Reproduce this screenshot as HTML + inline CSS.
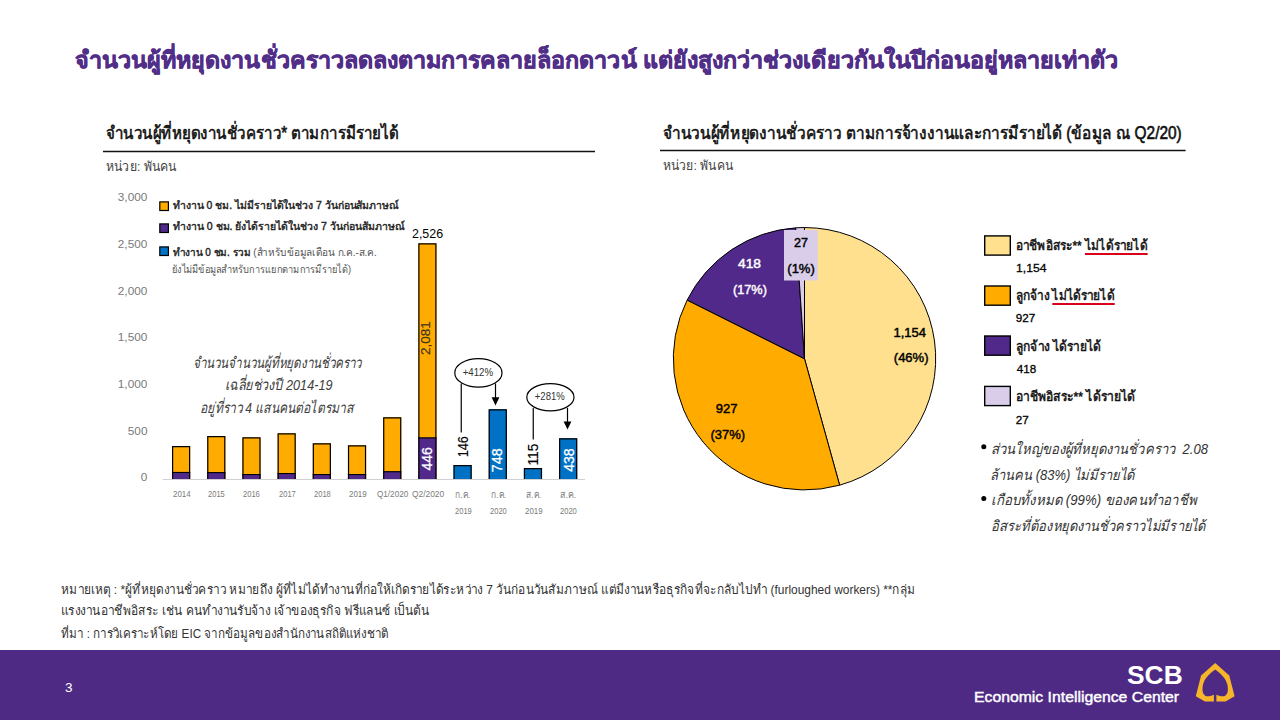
<!DOCTYPE html>
<html><head><meta charset="utf-8"><style>
html,body{margin:0;padding:0;}
body{width:1280px;height:720px;overflow:hidden;background:#fff;position:relative;font-family:"Liberation Sans",sans-serif;}
svg{position:absolute;left:0;top:0;}
.t{position:absolute;white-space:nowrap;line-height:1;transform-origin:0 0;}
.ul{text-decoration:underline;text-decoration-color:#d9001b;text-decoration-thickness:1.5px;text-underline-offset:3px;}
</style></head>
<body>
<svg width="1280" height="720" viewBox="0 0 1280 720"><rect x="0" y="650" width="1280" height="70" fill="#4e2a84"/>
<rect x="103" y="150.75" width="492" height="1.5" fill="#111"/>
<rect x="660" y="149.75" width="525.6" height="1.5" fill="#111"/>
<rect x="162.6" y="479" width="422.4" height="1" fill="#d0d0d0"/>
<rect x="172.00" y="446.00" width="18.20" height="33.00" fill="#ffab00"/><rect x="172.00" y="472.00" width="18.20" height="7.00" fill="#51298a"/><rect x="172.00" y="471.90" width="18.20" height="1.1" fill="#000"/><path d="M172.60 479.0 V446.60 H189.60 V479.0" fill="none" stroke="#000" stroke-width="1.2"/>
<rect x="207.19" y="436.00" width="18.20" height="43.00" fill="#ffab00"/><rect x="207.19" y="472.20" width="18.20" height="6.80" fill="#51298a"/><rect x="207.19" y="472.10" width="18.20" height="1.1" fill="#000"/><path d="M207.79 479.0 V436.60 H224.79 V479.0" fill="none" stroke="#000" stroke-width="1.2"/>
<rect x="242.37" y="437.30" width="18.20" height="41.70" fill="#ffab00"/><rect x="242.37" y="474.10" width="18.20" height="4.90" fill="#51298a"/><rect x="242.37" y="474.00" width="18.20" height="1.1" fill="#000"/><path d="M242.97 479.0 V437.90 H259.97 V479.0" fill="none" stroke="#000" stroke-width="1.2"/>
<rect x="277.56" y="433.30" width="18.20" height="45.70" fill="#ffab00"/><rect x="277.56" y="473.10" width="18.20" height="5.90" fill="#51298a"/><rect x="277.56" y="473.00" width="18.20" height="1.1" fill="#000"/><path d="M278.16 479.0 V433.90 H295.16 V479.0" fill="none" stroke="#000" stroke-width="1.2"/>
<rect x="312.74" y="443.20" width="18.20" height="35.80" fill="#ffab00"/><rect x="312.74" y="474.10" width="18.20" height="4.90" fill="#51298a"/><rect x="312.74" y="474.00" width="18.20" height="1.1" fill="#000"/><path d="M313.34 479.0 V443.80 H330.34 V479.0" fill="none" stroke="#000" stroke-width="1.2"/>
<rect x="347.93" y="445.30" width="18.20" height="33.70" fill="#ffab00"/><rect x="347.93" y="474.10" width="18.20" height="4.90" fill="#51298a"/><rect x="347.93" y="474.00" width="18.20" height="1.1" fill="#000"/><path d="M348.53 479.0 V445.90 H365.53 V479.0" fill="none" stroke="#000" stroke-width="1.2"/>
<rect x="383.12" y="417.20" width="18.20" height="61.80" fill="#ffab00"/><rect x="383.12" y="471.30" width="18.20" height="7.70" fill="#51298a"/><rect x="383.12" y="471.20" width="18.20" height="1.1" fill="#000"/><path d="M383.72 479.0 V417.80 H400.72 V479.0" fill="none" stroke="#000" stroke-width="1.2"/>
<rect x="418.30" y="243.30" width="18.20" height="235.70" fill="#ffab00"/><rect x="418.30" y="437.50" width="18.20" height="41.50" fill="#51298a"/><rect x="418.30" y="437.40" width="18.20" height="1.1" fill="#000"/><path d="M418.90 479.0 V243.90 H435.90 V479.0" fill="none" stroke="#000" stroke-width="1.2"/>
<rect x="453.49" y="465.00" width="18.20" height="14.00" fill="#0072c6"/><path d="M454.09 479.0 V465.60 H471.09 V479.0" fill="none" stroke="#000" stroke-width="1.2"/>
<rect x="488.67" y="409.25" width="18.20" height="69.75" fill="#0072c6"/><path d="M489.27 479.0 V409.85 H506.27 V479.0" fill="none" stroke="#000" stroke-width="1.2"/>
<rect x="523.86" y="468.00" width="18.20" height="11.00" fill="#0072c6"/><path d="M524.46 479.0 V468.60 H541.46 V479.0" fill="none" stroke="#000" stroke-width="1.2"/>
<rect x="559.05" y="438.25" width="18.20" height="40.75" fill="#0072c6"/><path d="M559.65 479.0 V438.85 H576.65 V479.0" fill="none" stroke="#000" stroke-width="1.2"/>
<rect x="159.8" y="201.9" width="8.6" height="8.6" fill="#ffab00" stroke="#000" stroke-width="1.2"/>
<rect x="159.8" y="223.9" width="8.6" height="8.6" fill="#51298a" stroke="#000" stroke-width="1.2"/>
<rect x="159.8" y="246.9" width="8.6" height="8.6" fill="#0072c6" stroke="#000" stroke-width="1.2"/>
<ellipse cx="478.4" cy="372.9" rx="23.6" ry="14.2" fill="#fff" stroke="#000" stroke-width="1.2"/>
<ellipse cx="550.4" cy="397.25" rx="23.6" ry="13.6" fill="#fff" stroke="#000" stroke-width="1.2"/>
<line x1="461.25" y1="383.5" x2="461.25" y2="432.5" stroke="#000" stroke-width="1.2"/>
<line x1="495.5" y1="383.5" x2="495.5" y2="398" stroke="#000" stroke-width="1.2"/>
<path d="M491.6 397.3 L499.4 397.3 L495.5 405.5 Z" fill="#000"/>
<line x1="533.25" y1="408" x2="533.25" y2="439.5" stroke="#000" stroke-width="1.2"/>
<line x1="567.5" y1="408" x2="567.5" y2="422" stroke="#000" stroke-width="1.2"/>
<path d="M563.6 421.5 L571.4 421.5 L567.5 429.5 Z" fill="#000"/>
<text x="0" y="0" transform="translate(430.3,338.1) rotate(-90)" text-anchor="middle" textLength="33.8" lengthAdjust="spacingAndGlyphs" font-family="Liberation Sans, sans-serif" font-size="12.5" fill="#3d3320" stroke="#3d3320" stroke-width="0.15">2,081</text>
<text x="0" y="0" transform="translate(431.9,458.9) rotate(-90)" text-anchor="middle" textLength="23.4" lengthAdjust="spacingAndGlyphs" font-family="Liberation Sans, sans-serif" font-size="14.5" fill="#fff" stroke="#fff" stroke-width="0.3">446</text>
<text x="0" y="0" transform="translate(467.9,446.65) rotate(-90)" text-anchor="middle" textLength="21.1" lengthAdjust="spacingAndGlyphs" font-family="Liberation Sans, sans-serif" font-size="13.8" fill="#000" stroke="#000" stroke-width="0.15">146</text>
<text x="0" y="0" transform="translate(502.3,460.3) rotate(-90)" text-anchor="middle" textLength="23.8" lengthAdjust="spacingAndGlyphs" font-family="Liberation Sans, sans-serif" font-size="14.5" fill="#fff" stroke="#fff" stroke-width="0.3">748</text>
<text x="0" y="0" transform="translate(538.1,454.6) rotate(-90)" text-anchor="middle" textLength="21.8" lengthAdjust="spacingAndGlyphs" font-family="Liberation Sans, sans-serif" font-size="13.8" fill="#000" stroke="#000" stroke-width="0.15">115</text>
<text x="0" y="0" transform="translate(573.8,460.1) rotate(-90)" text-anchor="middle" textLength="23.4" lengthAdjust="spacingAndGlyphs" font-family="Liberation Sans, sans-serif" font-size="14.5" fill="#fff" stroke="#fff" stroke-width="0.3">438</text>
<text x="477.9" y="376.3" text-anchor="middle" textLength="30.4" lengthAdjust="spacingAndGlyphs" font-family="Liberation Sans, sans-serif" font-size="10.6" fill="#333">+412%</text>
<text x="549.75" y="399.7" text-anchor="middle" textLength="29.9" lengthAdjust="spacingAndGlyphs" font-family="Liberation Sans, sans-serif" font-size="10.6" fill="#333">+281%</text>
<path d="M804.5 358.75 L804.50 227.55 A131.2 131.2 0 0 1 839.64 485.16 Z" fill="#ffe08e" stroke="#000" stroke-width="1.0" stroke-linejoin="round"/>
<path d="M804.5 358.75 L839.64 485.16 A131.2 131.2 0 0 1 687.17 300.05 Z" fill="#ffab00" stroke="#000" stroke-width="1.0" stroke-linejoin="round"/>
<path d="M804.5 358.75 L687.17 300.05 A131.2 131.2 0 0 1 795.70 227.85 Z" fill="#51298a" stroke="#000" stroke-width="1.0" stroke-linejoin="round"/>
<path d="M804.5 358.75 L795.70 227.85 A131.2 131.2 0 0 1 804.50 227.55 Z" fill="#d9cdea" stroke="#000" stroke-width="1.0" stroke-linejoin="round"/>
<rect x="784" y="230" width="33.8" height="50.5" fill="#d9cdea"/>
<rect x="984.7" y="235.89999999999998" width="25.6" height="19.2" fill="#ffe08e" stroke="#000" stroke-width="1.4"/>
<rect x="984.7" y="286.0" width="25.6" height="19.2" fill="#ffab00" stroke="#000" stroke-width="1.4"/>
<rect x="984.7" y="336.0" width="25.6" height="19.2" fill="#51298a" stroke="#000" stroke-width="1.4"/>
<rect x="984.7" y="386.4" width="25.6" height="19.2" fill="#d9cdea" stroke="#000" stroke-width="1.4"/>
<circle cx="983.8" cy="446.8" r="2.5" fill="#000"/>
<circle cx="983.8" cy="498.4" r="2.5" fill="#000"/>
<path d="M1215.2 663.1 L1229.25 675.6 L1234.6 696.25 L1225.5 701.6 L1204.9 701.6 L1195.8 696.25 L1201.1 675.6 Z" fill="#f7b52a"/>
<path d="M1215.2 669.4 C1211 672.5 1204 678 1202.8 685.5 C1202.2 690 1202.3 694 1205.5 695.9 C1208.5 697 1212 695.5 1213.9 694.7 L1213.9 702 L1216.4 702 L1216.4 694.7 C1218.4 695.5 1222 697 1224.9 695.9 C1228.1 694 1228.2 690 1227.6 685.5 C1226.4 678 1219.4 672.5 1215.2 669.4 Z" fill="#4e2a84"/></svg>
<div class="t" id="title" style="left:75.20px;top:48.56px;font-size:23.2px;font-weight:bold;font-style:normal;color:#512e88;-webkit-text-stroke:0.6px #512e88;transform:scaleX(1.0028);">จำนวนผู้ที่หยุดงานชั่วคราวลดลงตามการคลายล็อกดาวน์ แต่ยังสูงกว่าช่วงเดียวกันในปีก่อนอยู่หลายเท่าตัว</div>
<div class="t" id="h1" style="left:106.47px;top:125.49px;font-size:17.5px;font-weight:normal;font-style:normal;color:#111;-webkit-text-stroke:0.6px #111;transform:scaleX(0.8628);">จำนวนผู้ที่หยุดงานชั่วคราว* ตามการมีรายได้</div>
<div class="t" id="u1" style="left:106.09px;top:159.77px;font-size:13.5px;font-weight:normal;font-style:normal;color:#444;transform:scaleX(0.9091);">หน่วย: พันคน</div>
<div class="t" id="h2" style="left:663.00px;top:125.19px;font-size:17.5px;font-weight:normal;font-style:normal;color:#111;-webkit-text-stroke:0.6px #111;transform:scaleX(0.8810);">จำนวนผู้ที่หยุดงานชั่วคราว ตามการจ้างงานและการมีรายได้ (ข้อมูล ณ Q2/20)</div>
<div class="t" id="u2" style="left:663.48px;top:158.57px;font-size:13.5px;font-weight:normal;font-style:normal;color:#444;transform:scaleX(0.9000);">หน่วย: พันคน</div>
<div class="t" id="y0" style="left:117.80px;top:191.71px;font-size:11.8px;font-weight:normal;font-style:normal;color:#7a7a7a;">3,000</div>
<div class="t" id="y1" style="left:117.80px;top:238.51px;font-size:11.8px;font-weight:normal;font-style:normal;color:#7a7a7a;">2,500</div>
<div class="t" id="y2" style="left:117.80px;top:285.51px;font-size:11.8px;font-weight:normal;font-style:normal;color:#7a7a7a;">2,000</div>
<div class="t" id="y3" style="left:117.80px;top:331.76px;font-size:11.8px;font-weight:normal;font-style:normal;color:#7a7a7a;">1,500</div>
<div class="t" id="y4" style="left:117.80px;top:379.01px;font-size:11.8px;font-weight:normal;font-style:normal;color:#7a7a7a;">1,000</div>
<div class="t" id="y5" style="left:127.80px;top:425.71px;font-size:11.8px;font-weight:normal;font-style:normal;color:#7a7a7a;">500</div>
<div class="t" id="y6" style="left:140.80px;top:471.51px;font-size:11.8px;font-weight:normal;font-style:normal;color:#7a7a7a;">0</div>
<div class="t" id="lg1" style="left:173.00px;top:200.36px;font-size:10.5px;font-weight:normal;font-style:normal;color:#222;-webkit-text-stroke:0.4px #222;transform:scaleX(0.9908);">ทำงาน 0 ชม. ไม่มีรายได้ในช่วง 7 วันก่อนสัมภาษณ์</div>
<div class="t" id="lg2" style="left:173.00px;top:221.36px;font-size:10.5px;font-weight:normal;font-style:normal;color:#222;-webkit-text-stroke:0.4px #222;transform:scaleX(0.9978);">ทำงาน 0 ชม. ยังได้รายได้ในช่วง 7 วันก่อนสัมภาษณ์</div>
<div class="t" id="lg3" style="left:173.02px;top:246.61px;font-size:10.5px;font-weight:normal;font-style:normal;color:#555;transform:scaleX(0.9519);"><span style="color:#222;-webkit-text-stroke:0.4px #222">ทำงาน 0 ชม. รวม</span> (สำหรับข้อมูลเดือน ก.ค.-ส.ค.</div>
<div class="t" id="lg4" style="left:172.18px;top:264.11px;font-size:10.5px;font-weight:normal;font-style:normal;color:#555;transform:scaleX(0.8800);">ยังไม่มีข้อมูลสำหรับการแยกตามการมีรายได้)</div>
<div class="t" id="a1" style="left:192.54px;top:355.30px;font-size:15px;font-weight:normal;font-style:italic;color:#404040;transform:scaleX(0.7850);">จำนวนจำนวนผู้ที่หยุดงานชั่วคราว</div>
<div class="t" id="a2" style="left:225.15px;top:376.55px;font-size:15px;font-weight:normal;font-style:italic;color:#404040;transform:scaleX(0.8452);">เฉลี่ยช่วงปี 2014-19</div>
<div class="t" id="a3" style="left:200.48px;top:400.30px;font-size:15px;font-weight:normal;font-style:italic;color:#404040;transform:scaleX(0.8069);">อยู่ที่ราว 4 แสนคนต่อไตรมาส</div>
<div class="t" id="d2526" style="left:411.98px;top:228.34px;font-size:12px;font-weight:normal;font-style:normal;color:#000;transform:scaleX(1.0345);">2,526</div>
<div class="t" id="x0" style="left:172.51px;top:489.91px;font-size:9.2px;font-weight:normal;font-style:normal;color:#7a7a7a;transform:scaleX(0.8632);">2014</div>
<div class="t" id="x1" style="left:207.91px;top:489.91px;font-size:9.2px;font-weight:normal;font-style:normal;color:#7a7a7a;transform:scaleX(0.8200);">2015</div>
<div class="t" id="x2" style="left:243.27px;top:489.91px;font-size:9.2px;font-weight:normal;font-style:normal;color:#7a7a7a;transform:scaleX(0.8200);">2016</div>
<div class="t" id="x3" style="left:278.64px;top:489.91px;font-size:9.2px;font-weight:normal;font-style:normal;color:#7a7a7a;transform:scaleX(0.8200);">2017</div>
<div class="t" id="x4" style="left:314.00px;top:489.91px;font-size:9.2px;font-weight:normal;font-style:normal;color:#7a7a7a;transform:scaleX(0.8200);">2018</div>
<div class="t" id="x5" style="left:348.51px;top:489.91px;font-size:9.2px;font-weight:normal;font-style:normal;color:#7a7a7a;transform:scaleX(0.8632);">2019</div>
<div class="t" id="x6" style="left:377.19px;top:489.91px;font-size:9.2px;font-weight:normal;font-style:normal;color:#7a7a7a;transform:scaleX(0.8857);">Q1/2020</div>
<div class="t" id="x7" style="left:411.66px;top:489.91px;font-size:9.2px;font-weight:normal;font-style:normal;color:#7a7a7a;transform:scaleX(0.9118);">Q2/2020</div>
<div class="t" id="xm0" style="left:455.12px;top:489.66px;font-size:9.5px;font-weight:normal;font-style:normal;color:#7a7a7a;transform:scaleX(0.8750);">ก.ค.</div>
<div class="t" id="xy0" style="left:454.64px;top:506.71px;font-size:9.2px;font-weight:normal;font-style:normal;color:#7a7a7a;transform:scaleX(0.8200);">2019</div>
<div class="t" id="xm1" style="left:490.50px;top:489.66px;font-size:9.5px;font-weight:normal;font-style:normal;color:#7a7a7a;transform:scaleX(0.8750);">ก.ค.</div>
<div class="t" id="xy1" style="left:490.00px;top:506.71px;font-size:9.2px;font-weight:normal;font-style:normal;color:#7a7a7a;transform:scaleX(0.8200);">2020</div>
<div class="t" id="xm2" style="left:525.88px;top:489.66px;font-size:9.5px;font-weight:normal;font-style:normal;color:#7a7a7a;transform:scaleX(0.8750);">ส.ค.</div>
<div class="t" id="xy2" style="left:524.51px;top:506.71px;font-size:9.2px;font-weight:normal;font-style:normal;color:#7a7a7a;transform:scaleX(0.8632);">2019</div>
<div class="t" id="xm3" style="left:560.29px;top:489.66px;font-size:9.5px;font-weight:normal;font-style:normal;color:#7a7a7a;transform:scaleX(0.9333);">ส.ค.</div>
<div class="t" id="xy3" style="left:559.91px;top:506.71px;font-size:9.2px;font-weight:normal;font-style:normal;color:#7a7a7a;transform:scaleX(0.8200);">2020</div>
<div class="t" id="p418" style="left:737.59px;top:257.30px;font-size:13px;font-weight:normal;font-style:normal;color:#fff;-webkit-text-stroke:0.45px #fff;transform:scaleX(1.0571);">418</div>
<div class="t" id="p17" style="left:732.60px;top:283.00px;font-size:13px;font-weight:normal;font-style:normal;color:#fff;-webkit-text-stroke:0.45px #fff;transform:scaleX(0.9765);">(17%)</div>
<div class="t" id="p27" style="left:793.59px;top:236.20px;font-size:13px;font-weight:normal;font-style:normal;color:#000;-webkit-text-stroke:0.45px #000;transform:scaleX(0.9667);">27</div>
<div class="t" id="p1" style="left:787.30px;top:261.90px;font-size:13px;font-weight:normal;font-style:normal;color:#000;-webkit-text-stroke:0.45px #000;">(1%)</div>
<div class="t" id="p1154" style="left:893.50px;top:326.00px;font-size:13px;font-weight:normal;font-style:normal;color:#000;-webkit-text-stroke:0.45px #000;">1,154</div>
<div class="t" id="p46" style="left:893.80px;top:351.00px;font-size:13px;font-weight:normal;font-style:normal;color:#000;-webkit-text-stroke:0.45px #000;">(46%)</div>
<div class="t" id="p927" style="left:715.70px;top:402.00px;font-size:13px;font-weight:normal;font-style:normal;color:#000;-webkit-text-stroke:0.45px #000;">927</div>
<div class="t" id="p37" style="left:710.50px;top:428.00px;font-size:13px;font-weight:normal;font-style:normal;color:#000;-webkit-text-stroke:0.45px #000;">(37%)</div>
<div class="t" id="pl1" style="left:1015.86px;top:238.94px;font-size:13.3px;font-weight:normal;font-style:normal;color:#111;-webkit-text-stroke:0.5px #111;transform:scaleX(0.8952);">อาชีพอิสระ**&nbsp;<span class="ul">ไม่ได้รายได้</span></div>
<div class="t" id="pv1" style="left:1015.78px;top:262.20px;font-size:11.7px;font-weight:normal;font-style:normal;color:#000;-webkit-text-stroke:0.3px #000;transform:scaleX(1.0414);">1,154</div>
<div class="t" id="pl2" style="left:1015.86px;top:288.94px;font-size:13.3px;font-weight:normal;font-style:normal;color:#111;-webkit-text-stroke:0.5px #111;transform:scaleX(0.8918);">ลูกจ้าง <span class="ul">ไม่ได้รายได้</span></div>
<div class="t" id="pv2" style="left:1015.80px;top:312.20px;font-size:11.7px;font-weight:normal;font-style:normal;color:#000;-webkit-text-stroke:0.3px #000;">927</div>
<div class="t" id="pl3" style="left:1015.86px;top:339.84px;font-size:13.3px;font-weight:normal;font-style:normal;color:#111;-webkit-text-stroke:0.5px #111;transform:scaleX(0.8989);">ลูกจ้าง ได้รายได้</div>
<div class="t" id="pv3" style="left:1016.80px;top:362.60px;font-size:11.7px;font-weight:normal;font-style:normal;color:#000;-webkit-text-stroke:0.3px #000;">418</div>
<div class="t" id="pl4" style="left:1015.85px;top:389.94px;font-size:13.3px;font-weight:normal;font-style:normal;color:#111;-webkit-text-stroke:0.5px #111;transform:scaleX(0.9123);">อาชีพอิสระ** ได้รายได้</div>
<div class="t" id="pv4" style="left:1015.80px;top:413.60px;font-size:11.7px;font-weight:normal;font-style:normal;color:#000;-webkit-text-stroke:0.3px #000;">27</div>
<div class="t" id="b1" style="left:991.34px;top:441.93px;font-size:14.5px;font-weight:normal;font-style:italic;color:#333;transform:scaleX(0.9033);">ส่วนใหญ่ของผู้ที่หยุดงานชั่วคราว&nbsp; 2.08</div>
<div class="t" id="b2" style="left:990.45px;top:467.93px;font-size:14.5px;font-weight:normal;font-style:italic;color:#333;transform:scaleX(0.8950);">ล้านคน (83%) ไม่มีรายได้</div>
<div class="t" id="b3" style="left:991.32px;top:493.13px;font-size:14.5px;font-weight:normal;font-style:italic;color:#333;transform:scaleX(0.9120);">เกือบทั้งหมด (99%) ของคนทำอาชีพ</div>
<div class="t" id="b4" style="left:991.35px;top:519.23px;font-size:14.5px;font-weight:normal;font-style:italic;color:#333;transform:scaleX(0.8921);">อิสระที่ต้องหยุดงานชั่วคราวไม่มีรายได้</div>
<div class="t" id="f1" style="left:61.48px;top:582.60px;font-size:13px;font-weight:normal;font-style:normal;color:#333;transform:scaleX(0.9170);">หมายเหตุ : *ผู้ที่หยุดงานชั่วคราว หมายถึง ผู้ที่ไม่ได้ทำงานที่ก่อให้เกิดรายได้ระหว่าง 7 วันก่อนวันสัมภาษณ์ แต่มีงานหรือธุรกิจที่จะกลับไปทำ (furloughed workers) **กลุ่ม</div>
<div class="t" id="f2" style="left:60.56px;top:604.20px;font-size:13px;font-weight:normal;font-style:normal;color:#333;transform:scaleX(0.9217);">แรงงานอาชีพอิสระ เช่น คนทำงานรับจ้าง เจ้าของธุรกิจ ฟรีแลนซ์ เป็นต้น</div>
<div class="t" id="f3" style="left:61.47px;top:627.10px;font-size:13px;font-weight:normal;font-style:normal;color:#333;transform:scaleX(0.8971);">ที่มา : การวิเคราะห์โดย EIC จากข้อมูลของสำนักงานสถิติแห่งชาติ</div>
<div class="t" id="pg" style="left:65.47px;top:680.50px;font-size:13px;font-weight:normal;font-style:normal;color:#fff;transform:scaleX(1.0417);">3</div>
<div class="t" id="scb" style="left:1127.00px;top:662.32px;font-size:26.5px;font-weight:bold;font-style:normal;color:#fff;transform:scaleX(0.9954);">SCB</div>
<div class="t" id="eic" style="left:973.99px;top:688.63px;font-size:15.5px;font-weight:normal;font-style:normal;color:#fff;-webkit-text-stroke:0.45px #fff;transform:scaleX(1.0173);">Economic Intelligence Center</div>
</body></html>
